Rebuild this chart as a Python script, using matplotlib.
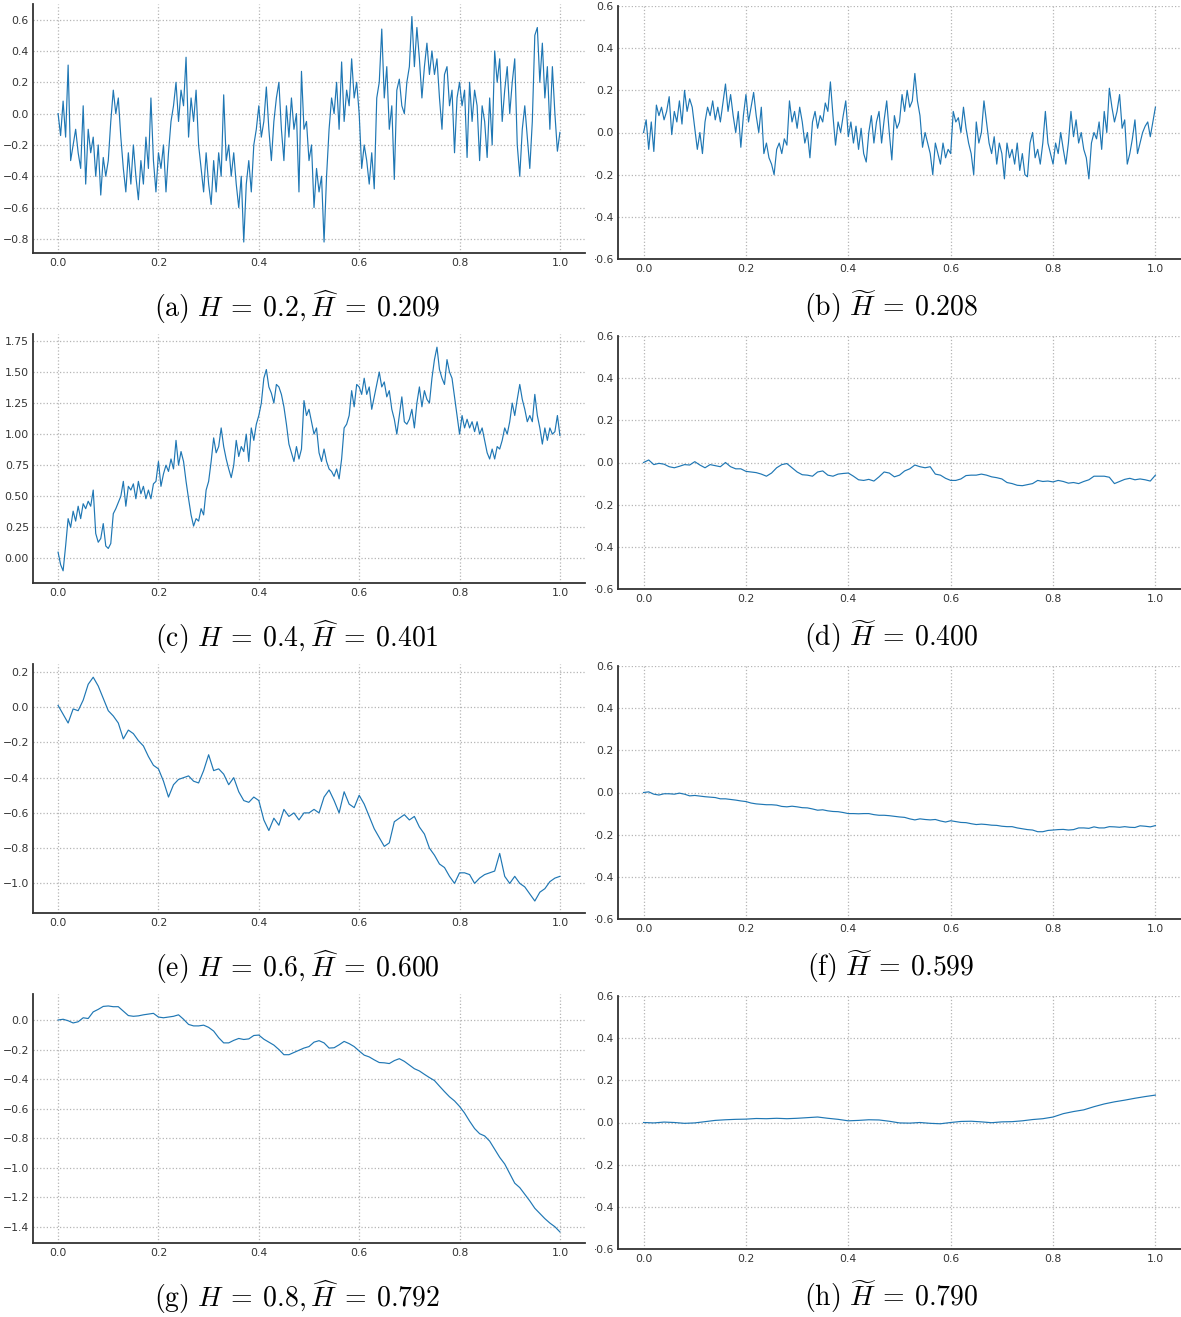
import numpy as np
import matplotlib.pyplot as plt
from matplotlib.patches import Rectangle

plt.rcParams['mathtext.fontset'] = 'cm'
plt.rcParams['font.family'] = ['DejaVu Sans']

# ---------- data (t runs 0..1 on an even grid) ----------
# (a) H=0.2 path
y_a = [0.00, -0.14, 0.08, -0.15, 0.31, -0.30, -0.20, -0.10, -0.25, -0.35,
       0.05, -0.45, -0.10, -0.25, -0.15, -0.40, -0.20, -0.52, -0.28, -0.40,
       -0.30, -0.05, 0.15, 0.00, 0.10, -0.15, -0.35, -0.50, -0.25, -0.45,
       -0.20, -0.40, -0.55, -0.30, -0.45, -0.15, -0.35, 0.10, -0.30, -0.50,
       -0.25, -0.35, -0.20, -0.50, -0.25, -0.05, 0.05, 0.20, -0.05, 0.15,
       0.05, 0.36, -0.15, 0.10, -0.05, 0.15, -0.20, -0.35, -0.50, -0.25,
       -0.45, -0.58, -0.30, -0.50, -0.25, -0.40, 0.12, -0.30, -0.20, -0.40,
       -0.25, -0.45, -0.60, -0.40, -0.82, -0.45, -0.30, -0.50, -0.20, -0.10,
       0.05, -0.15, -0.05, 0.17, -0.10, -0.30, -0.05, 0.10, 0.20, -0.10,
       -0.30, 0.05, -0.15, 0.10, -0.10, 0.00, -0.50, 0.27, -0.10, -0.05,
       -0.30, -0.20, -0.60, -0.35, -0.50, -0.40, -0.82, -0.40, -0.10, 0.10,
       0.00, 0.20, -0.10, 0.33, -0.05, 0.15, 0.05, 0.35, 0.10, 0.20,
       0.00, -0.35, -0.20, -0.30, -0.45, -0.25, -0.48, 0.10, 0.20, 0.54,
       0.10, 0.30, -0.10, 0.05, -0.42, 0.15, 0.22, 0.05, 0.00, 0.20,
       0.30, 0.62, 0.30, 0.55, 0.35, 0.10, 0.30, 0.45, 0.25, 0.40,
       0.25, 0.35, 0.10, -0.10, 0.25, 0.30, 0.05, 0.15, -0.25, 0.10,
       0.20, 0.05, 0.15, -0.28, 0.20, -0.05, 0.15, 0.05, -0.30, 0.05,
       -0.05, -0.28, 0.10, -0.20, 0.40, 0.20, 0.35, -0.05, 0.15, 0.30,
       0.00, 0.20, 0.35, -0.20, -0.40, -0.10, 0.05, -0.15, -0.35, -0.05,
       0.50, 0.55, 0.20, 0.45, 0.10, 0.30, -0.10, 0.30, 0.00, -0.24,
       -0.12]

# (b) estimate, H~=0.208
y_b = [0.00, 0.06, -0.08, 0.05, -0.09, 0.13, 0.08, 0.12, 0.06, 0.10,
       0.17, -0.01, 0.10, 0.05, 0.15, 0.04, 0.20, 0.10, 0.16, 0.12,
       0.02, -0.08, 0.00, -0.10, 0.05, 0.12, 0.08, 0.15, 0.06, 0.12,
       0.05, 0.14, 0.23, 0.10, 0.18, 0.08, 0.00, 0.10, -0.07, 0.08,
       0.18, 0.05, 0.12, 0.19, 0.08, 0.00, 0.12, -0.10, -0.05, -0.12,
       -0.15, -0.20, -0.08, -0.05, -0.10, -0.03, -0.06, 0.15, 0.05, 0.10,
       0.02, 0.12, 0.05, -0.05, 0.00, -0.12, 0.05, 0.10, 0.02, 0.08,
       0.05, 0.14, 0.10, 0.24, 0.08, -0.06, 0.05, 0.00, 0.08, 0.15,
       -0.02, 0.05, -0.05, 0.03, -0.08, 0.02, -0.10, -0.14, 0.00, 0.08,
       -0.05, 0.05, 0.10, -0.05, 0.06, 0.15, 0.00, -0.13, 0.08, 0.02,
       0.05, 0.18, 0.10, 0.20, 0.12, 0.15, 0.28, 0.15, 0.08, -0.07,
       0.00, -0.05, -0.10, -0.20, -0.05, -0.10, -0.15, -0.05, -0.12, -0.08,
       -0.10, 0.10, 0.05, 0.07, 0.00, 0.12, 0.02, -0.05, -0.10, -0.20,
       0.05, -0.05, 0.00, 0.15, 0.05, -0.05, -0.10, -0.02, -0.15, -0.05,
       -0.10, -0.22, -0.05, -0.12, -0.08, -0.15, -0.05, -0.18, -0.10, -0.20,
       -0.21, -0.05, 0.00, -0.12, -0.08, -0.15, -0.05, 0.10, -0.05, -0.10,
       -0.15, -0.05, -0.10, 0.00, -0.08, -0.15, -0.05, 0.10, -0.02, 0.06,
       -0.05, 0.00, -0.08, -0.12, -0.22, -0.05, 0.00, -0.03, 0.05, -0.08,
       0.10, 0.00, 0.21, 0.12, 0.05, 0.10, 0.18, 0.02, 0.06, -0.15,
       -0.10, -0.03, 0.06, -0.10, -0.05, 0.00, 0.03, 0.05, -0.02, 0.05,
       0.12]

# (c) H=0.4 path
y_c = [0.05, -0.05, -0.10, 0.10, 0.32, 0.25, 0.38, 0.30, 0.42, 0.32,
       0.44, 0.40, 0.46, 0.42, 0.55, 0.20, 0.13, 0.16, 0.28, 0.10,
       0.08, 0.12, 0.36, 0.40, 0.45, 0.50, 0.62, 0.42, 0.58, 0.55,
       0.60, 0.48, 0.62, 0.52, 0.58, 0.48, 0.55, 0.48, 0.60, 0.62,
       0.78, 0.58, 0.68, 0.75, 0.70, 0.80, 0.72, 0.95, 0.75, 0.86,
       0.78, 0.62, 0.48, 0.35, 0.26, 0.32, 0.30, 0.40, 0.35, 0.55,
       0.62, 0.78, 0.97, 0.85, 0.90, 1.05, 0.90, 0.80, 0.72, 0.65,
       0.75, 0.95, 0.82, 0.90, 0.86, 1.00, 0.78, 1.05, 0.95, 1.08,
       1.15, 1.25, 1.45, 1.52, 1.38, 1.33, 1.25, 1.40, 1.38, 1.32,
       1.22, 1.08, 0.92, 0.85, 0.78, 0.90, 0.80, 0.88, 1.27, 1.15,
       1.20, 1.10, 1.00, 1.05, 0.85, 0.78, 0.88, 0.78, 0.72, 0.70,
       0.66, 0.72, 0.64, 0.80, 1.05, 1.08, 1.15, 1.35, 1.22, 1.40,
       1.38, 1.32, 1.45, 1.32, 1.38, 1.20, 1.30, 1.40, 1.50, 1.38,
       1.42, 1.30, 1.35, 1.20, 1.12, 1.00, 1.15, 1.30, 1.10, 1.08,
       1.12, 1.20, 1.05, 1.25, 1.38, 1.22, 1.35, 1.28, 1.25, 1.45,
       1.60, 1.70, 1.52, 1.45, 1.40, 1.60, 1.50, 1.45, 1.30, 1.15,
       1.00, 1.15, 1.05, 1.12, 1.05, 1.10, 1.02, 1.10, 1.00, 1.05,
       0.95, 0.85, 0.80, 0.88, 0.80, 0.90, 0.88, 0.95, 1.05, 1.00,
       1.10, 1.25, 1.15, 1.28, 1.40, 1.28, 1.20, 1.10, 1.15, 1.10,
       1.32, 1.15, 1.05, 0.92, 1.05, 0.95, 1.05, 1.00, 1.02, 1.15,
       0.99]

# (d) estimate, H~=0.400
y_d = [0.000, 0.012, -0.010, -0.004, -0.008, -0.020, -0.025, -0.018, -0.010, -0.012,
       0.004, -0.012, -0.025, -0.010, -0.015, -0.020, 0.000, -0.020, -0.030, -0.030,
       -0.042, -0.045, -0.048, -0.055, -0.065, -0.050, -0.025, -0.010, -0.005, -0.025,
       -0.045, -0.058, -0.060, -0.065, -0.045, -0.040, -0.060, -0.065, -0.055, -0.052,
       -0.050, -0.065, -0.082, -0.085, -0.080, -0.088, -0.068, -0.045, -0.050, -0.068,
       -0.060, -0.040, -0.030, -0.012, -0.020, -0.025, -0.020, -0.055, -0.060, -0.075,
       -0.085, -0.085, -0.078, -0.062, -0.060, -0.060, -0.055, -0.060, -0.068, -0.072,
       -0.078, -0.095, -0.100, -0.108, -0.110, -0.105, -0.100, -0.085, -0.090, -0.088,
       -0.092, -0.085, -0.090, -0.098, -0.095, -0.100, -0.090, -0.082, -0.065, -0.065,
       -0.065, -0.070, -0.100, -0.090, -0.080, -0.075, -0.082, -0.078, -0.082, -0.088,
       -0.060]

# (e) H=0.6 path
y_e = [0.01, -0.04, -0.09, -0.01, -0.02, 0.04, 0.13, 0.17, 0.12, 0.05,
       -0.02, -0.05, -0.09, -0.18, -0.13, -0.15, -0.19, -0.22, -0.28, -0.33,
       -0.35, -0.42, -0.51, -0.44, -0.41, -0.40, -0.39, -0.42, -0.43, -0.36,
       -0.27, -0.36, -0.35, -0.38, -0.44, -0.40, -0.48, -0.53, -0.54, -0.51,
       -0.53, -0.64, -0.70, -0.63, -0.67, -0.58, -0.62, -0.60, -0.64, -0.60,
       -0.60, -0.58, -0.60, -0.51, -0.47, -0.53, -0.60, -0.48, -0.55, -0.57,
       -0.50, -0.55, -0.62, -0.69, -0.74, -0.79, -0.77, -0.65, -0.63, -0.61,
       -0.64, -0.62, -0.68, -0.72, -0.80, -0.84, -0.89, -0.91, -0.96, -1.00,
       -0.94, -0.94, -0.95, -1.00, -0.97, -0.95, -0.94, -0.93, -0.83, -0.96,
       -1.00, -0.96, -1.00, -1.02, -1.06, -1.10, -1.05, -1.03, -0.99, -0.97,
       -0.96]

# (f) estimate, H~=0.599
y_f = [0.000, 0.003, -0.008, -0.012, -0.006, -0.006, -0.008, -0.003, -0.008, -0.016,
       -0.014, -0.017, -0.020, -0.022, -0.024, -0.030, -0.030, -0.033, -0.036, -0.040,
       -0.043, -0.050, -0.054, -0.056, -0.058, -0.058, -0.060, -0.066, -0.068, -0.065,
       -0.068, -0.072, -0.073, -0.078, -0.084, -0.082, -0.087, -0.090, -0.091, -0.095,
       -0.100, -0.100, -0.101, -0.100, -0.100, -0.105, -0.108, -0.108, -0.110, -0.113,
       -0.116, -0.118, -0.125, -0.130, -0.125, -0.128, -0.130, -0.128, -0.135, -0.140,
       -0.134, -0.138, -0.142, -0.143, -0.148, -0.152, -0.150, -0.152, -0.155, -0.156,
       -0.160, -0.162, -0.162, -0.168, -0.172, -0.176, -0.178, -0.186, -0.186, -0.180,
       -0.178, -0.176, -0.175, -0.178, -0.176, -0.168, -0.168, -0.170, -0.163, -0.168,
       -0.168, -0.162, -0.163, -0.165, -0.162, -0.165, -0.166, -0.158, -0.160, -0.163,
       -0.157]

# (g) H=0.8 path
y_g = [0.000, 0.005, -0.005, -0.020, -0.012, 0.015, 0.010, 0.055, 0.072, 0.092,
       0.095, 0.090, 0.090, 0.060, 0.030, 0.025, 0.028, 0.035, 0.040, 0.045,
       0.020, 0.015, 0.020, 0.025, 0.035, 0.005, -0.030, -0.040, -0.040, -0.035,
       -0.050, -0.075, -0.120, -0.155, -0.155, -0.138, -0.125, -0.132, -0.128, -0.105,
       -0.102, -0.130, -0.150, -0.170, -0.200, -0.235, -0.235, -0.220, -0.205, -0.190,
       -0.180, -0.150, -0.140, -0.155, -0.190, -0.188, -0.168, -0.145, -0.160, -0.180,
       -0.210, -0.238, -0.250, -0.270, -0.288, -0.290, -0.295, -0.275, -0.262, -0.280,
       -0.305, -0.330, -0.345, -0.368, -0.390, -0.410, -0.448, -0.485, -0.520, -0.548,
       -0.585, -0.630, -0.685, -0.735, -0.770, -0.785, -0.820, -0.875, -0.930, -0.975,
       -1.040, -1.105, -1.135, -1.180, -1.225, -1.275, -1.310, -1.345, -1.375, -1.400,
       -1.435]

# (h) estimate, H~=0.790
y_h = [0.000, -0.002, 0.002, 0.000, -0.004, -0.002, 0.004, 0.010, 0.013, 0.015,
       0.016, 0.019, 0.018, 0.020, 0.018, 0.020, 0.023, 0.026, 0.020, 0.015,
       0.008, 0.010, 0.013, 0.012, 0.006, -0.002, -0.003, 0.000, -0.004, -0.006,
       0.000, 0.005, 0.006, 0.003, -0.001, 0.003, 0.004, 0.008, 0.014, 0.018,
       0.026, 0.042, 0.052, 0.060, 0.075, 0.088, 0.098, 0.106, 0.115, 0.123,
       0.130]

captions = [r'$\mathrm{(a)}\ H \:=\: 0.2, \widehat{H} \:=\: 0.209$',
            r'$\mathrm{(b)}\ \widetilde{H} \:=\: 0.208$',
            r'$\mathrm{(c)}\ H \:=\: 0.4, \widehat{H} \:=\: 0.401$',
            r'$\mathrm{(d)}\ \widetilde{H} \:=\: 0.400$',
            r'$\mathrm{(e)}\ H \:=\: 0.6, \widehat{H} \:=\: 0.600$',
            r'$\mathrm{(f)}\ \widetilde{H} \:=\: 0.599$',
            r'$\mathrm{(g)}\ H \:=\: 0.8, \widehat{H} \:=\: 0.792$',
            r'$\mathrm{(h)}\ \widetilde{H} \:=\: 0.790$']

left_series = [y_a, y_c, y_e, y_g]
right_series = [y_b, y_d, y_f, y_h]
left_ylims = [(-0.89, 0.70), (-0.198, 1.806), (-1.168, 0.245), (-1.51, 0.176)]
left_yticks = [[-0.8, -0.6, -0.4, -0.2, 0.0, 0.2, 0.4, 0.6],
               [0.0, 0.25, 0.5, 0.75, 1.0, 1.25, 1.5, 1.75],
               [-1.0, -0.8, -0.6, -0.4, -0.2, 0.0, 0.2],
               [-1.4, -1.2, -1.0, -0.8, -0.6, -0.4, -0.2, 0.0]]
left_fmt = ['%.1f', '%.2f', '%.1f', '%.1f']
right_yticks = [-0.6, -0.4, -0.2, 0.0, 0.2, 0.4, 0.6]
x_ticks = [0.0, 0.2, 0.4, 0.6, 0.8, 1.0]

W, H = 1181, 1317
fig = plt.figure(figsize=(W / 100, H / 100), dpi=100)


def px_axes(x0, top, w, h):
    # axes rectangle given in pixels from the top-left corner
    return fig.add_axes([x0 / W, 1 - (top + h) / H, w / W, h / H])


def fmt(f, v):
    return (f % v).replace('-', '\u2212')


def style(ax):
    for side in ['top', 'right']:
        ax.spines[side].set_visible(False)
    for side in ['left', 'bottom']:
        ax.spines[side].set_color('#333333')
        ax.spines[side].set_linewidth(1.3)
    ax.grid(True, linestyle=':', color='#b5b5b5', linewidth=0.9)
    ax.set_axisbelow(True)
    ax.tick_params(length=0, labelsize=7.8, labelcolor='#333333')
    ax.tick_params(axis='y', pad=2.9)
    ax.tick_params(axis='x', pad=3.4)
    ax.set_xlim(-0.05, 1.05)
    ax.set_xticks(x_ticks)
    ax.set_xticklabels([fmt('%.1f', v) for v in x_ticks])


line_col = '#1f77b4'
for r in range(4):
    # left column: simulated path
    ax = px_axes(33, 4 + 330 * r, 552, 249)
    style(ax)
    ys = left_series[r]
    ax.plot(np.linspace(0, 1, len(ys)), ys, color=line_col, lw=0.85)
    ax.set_ylim(*left_ylims[r])
    ax.set_yticks(left_yticks[r])
    ax.set_yticklabels([fmt(left_fmt[r], v) for v in left_yticks[r]])

    # right column: estimated path, fixed scale
    ax2 = px_axes(618, 6 + 330 * r, 563, 253)
    style(ax2)
    ys = right_series[r]
    ax2.plot(np.linspace(0, 1, len(ys)), ys, color=line_col, lw=0.85)
    ax2.set_ylim(-0.6, 0.6)
    ax2.set_yticks(right_yticks)
    ax2.set_yticklabels([fmt('%.1f', v) for v in right_yticks])

    fig.text(297 / W, 1 - (307 + 330 * r) / H, captions[2 * r],
             ha='center', va='center', fontsize=20)
    fig.text(891 / W, 1 - (307 + 330 * r) / H, captions[2 * r + 1],
             ha='center', va='center', fontsize=20)

# in the original the right-hand sub-pictures are cropped just left of
# their y labels, so the minus signs are cut off
fig.add_artist(Rectangle((586 / W, 0), (594.5 - 586) / W, 1,
                         transform=fig.transFigure, facecolor='white',
                         edgecolor='none', zorder=10))

fig.savefig('out.png', dpi=100)
